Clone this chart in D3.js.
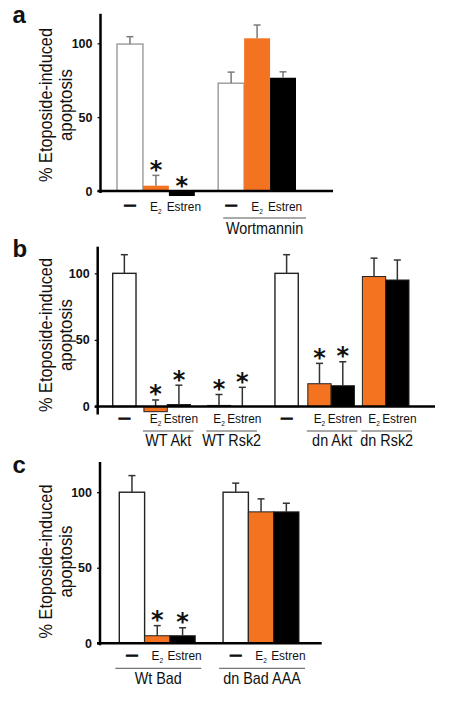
<!DOCTYPE html>
<html><head><meta charset="utf-8">
<script src="https://cdn.jsdelivr.net/npm/d3@7"></script>
<style>
body{margin:0;background:#fff;}
svg{display:block;}
text{font-family:"Liberation Sans",Arial,Helvetica,sans-serif;fill:#111;}
</style>
</head><body>
<svg id="chart" width="455" height="706"></svg>
<script>
// ---------- data ----------
const yTicks = [0, 50, 100];
const yTitle = ["% Etoposide-induced", "apoptosis"];

// Panel a
const aGroups = ["", "Wortmannin"];
const aConditions = ["—", "E2", "Estren", "—", "E2", "Estren"];
const aGroupOf = [0, 0, 0, 1, 1, 1];
const aValues = [99.5, 3.6, -3.4, 73, 103.4, 76.7];
const aSD = [5, 7, 0, 7.5, 9, 4];
const aSig = [0, 1, 1, 0, 0, 0];

// Panel b
const bGroups = ["", "WT Akt", "WT Rsk2", "", "dn Akt", "dn Rsk2"];
const bConditions = ["—", "E2", "Estren", "E2", "Estren", "—", "E2", "Estren", "E2", "Estren"];
const bGroupOf = [0, 1, 1, 2, 2, 3, 4, 4, 5, 5];
const bValues = [100, -3.9, 1.5, 0.8, 0, 100, 17.1, 15.6, 97.6, 95];
const bSD = [14, 8.8, 14.5, 8.2, 14.4, 14, 15.3, 18, 13.8, 15];
const bSig = [0, 1, 1, 1, 1, 0, 1, 1, 0, 0];

// Panel c
const cGroups = ["Wt Bad", "dn Bad AAA"];
const cConditions = ["—", "E2", "Estren", "—", "E2", "Estren"];
const cGroupOf = [0, 0, 0, 1, 1, 1];
const cValues = [100, 5, 5, 100, 87, 87];
const cSD = [11, 6.7, 5.3, 6, 8.6, 5.7];
const cSig = [0, 1, 1, 0, 0, 0];

// ---------- styling / layout ----------
const ORANGE = "#f47321";
const fillFor = c => c === "—" ? "#ffffff" : (c === "E2" ? ORANGE : "#000000");

const panels = [
  {letter: "a", groups: aGroups, conditions: aConditions, groupOf: aGroupOf, values: aValues, sd: aSD, sig: aSig,
   L: {top: 13.8, base: 191, axisX: 100.5, xStart: 117, xEnd: 296, axisEnd: 333, gaps: [0.9], yExtra: 2,
       letterY: 23, condY: 210.5, lineY: 218, groupY: 233.5, titleC: 105, ext: [5, 10],
       whiteStroke: "#9a9a9a", colStroke: "none", errColor: "#7a7a7a"}},
  {letter: "b", groups: bGroups, conditions: bConditions, groupOf: bGroupOf, values: bValues, sd: bSD, sig: bSig,
   L: {top: 246.7, base: 406.5, axisX: 97.7, xStart: 112.7, xEnd: 409, axisEnd: 435, gaps: [0.34, 0.72, 0.9, 0.41, 0.34], yExtra: 8,
       letterY: 257, condY: 423, lineY: 431, groupY: 446, titleC: 335, ext: [-1, 3],
       whiteStroke: "#222", colStroke: "#222", errColor: "#333"}},
  {letter: "c", groups: cGroups, conditions: cConditions, groupOf: cGroupOf, values: cValues, sd: cSD, sig: cSig,
   L: {top: 462, base: 643.3, axisX: 100, xStart: 119.3, xEnd: 299, axisEnd: 321.7, gaps: [1.1], yExtra: 2,
       letterY: 473, condY: 660, lineY: 668.3, groupY: 684, titleC: 561.5, ext: [-4, 6],
       whiteStroke: "#222", colStroke: "#222", errColor: "#333"}}
];

const svg = d3.select("#chart");

panels.forEach(p => {
  const L = p.L;
  const g = svg.append("g");
  const n = p.values.length;

  // unit positions of bars (groups separated by gaps)
  const starts = [];
  let pos = 0;
  for (let i = 0; i < n; i++) {
    if (i > 0 && p.groupOf[i] !== p.groupOf[i - 1]) pos += L.gaps[p.groupOf[i] - 1];
    starts.push(pos);
    pos += 1;
  }
  const x = d3.scaleLinear().domain([0, pos]).range([L.xStart, L.xEnd]);
  const y = d3.scaleLinear().domain([0, 120]).range([L.base, L.top]);

  const bars = p.values.map((v, i) => ({v, sd: p.sd[i], c: p.conditions[i], sig: p.sig[i], x0: x(starts[i]), x1: x(starts[i] + 1)}));

  // bars
  g.selectAll("rect.bar").data(bars).join("rect")
    .attr("class", "bar")
    .attr("x", d => d.x0)
    .attr("width", d => d.x1 - d.x0)
    .attr("y", d => y(Math.max(d.v, 0)))
    .attr("height", d => Math.abs(y(d.v) - y(0)))
    .attr("fill", d => fillFor(d.c))
    .attr("stroke", d => d.c === "—" ? L.whiteStroke : L.colStroke)
    .attr("stroke-width", d => d.c === "—" ? 1.4 : 1);

  // error bars (upper only)
  const eb = bars.filter(d => d.sd > 0);
  g.selectAll("line.err").data(eb).join("line")
    .attr("x1", d => (d.x0 + d.x1) / 2).attr("x2", d => (d.x0 + d.x1) / 2)
    .attr("y1", d => y(Math.max(d.v, 0))).attr("y2", d => y(d.v + d.sd))
    .attr("stroke", L.errColor).attr("stroke-width", 1.5);
  g.selectAll("line.cap").data(eb).join("line")
    .attr("x1", d => (d.x0 + d.x1) / 2 - 3.5).attr("x2", d => (d.x0 + d.x1) / 2 + 3.5)
    .attr("y1", d => y(d.v + d.sd)).attr("y2", d => y(d.v + d.sd))
    .attr("stroke", L.errColor).attr("stroke-width", 1.5);

  // significance asterisks
  g.selectAll("text.star").data(bars.filter(d => d.sig)).join("text")
    .attr("x", d => (d.x0 + d.x1) / 2)
    .attr("y", d => y(Math.max(d.v + d.sd, 0)) - 11 + 13.5)
    .attr("text-anchor", "middle")
    .style("font-family", "'DejaVu Sans', sans-serif")
    .style("font-size", "24px")
    .style("font-weight", "bold")
    .text("*");

  // y axis
  const ax = g.append("g").attr("transform", `translate(${L.axisX},0)`)
    .call(d3.axisLeft(y).tickValues(yTicks).tickSize(3).tickPadding(5));
  ax.select(".domain").remove();
  ax.selectAll(".tick line").attr("stroke", "#000").attr("stroke-width", 1.2);
  ax.selectAll(".tick text").style("font-family", "'Liberation Sans',Arial,sans-serif")
    .style("font-size", "12.5px").style("font-weight", "bold").attr("fill", "#111");
  g.append("line").attr("x1", L.axisX).attr("x2", L.axisX)
    .attr("y1", y(120)).attr("y2", L.base + L.yExtra)
    .attr("stroke", "#000").attr("stroke-width", 2.5);
  // x axis baseline
  g.append("line").attr("x1", L.axisX - 3).attr("x2", L.axisEnd)
    .attr("y1", y(0)).attr("y2", y(0))
    .attr("stroke", "#000").attr("stroke-width", 2.5);

  // condition labels (slightly condensed like the original typeface)
  const cl = g.selectAll("text.cond").data(bars).join("text")
    .attr("transform", d => `translate(${(d.x0 + d.x1) / 2 + (d.c === "Estren" ? 2 : 0)},${L.condY}) scale(0.88,1)`)
    .attr("text-anchor", "middle")
    .style("font-size", "13.5px");
  cl.each(function(d) {
    const t = d3.select(this);
    if (d.c === "E2") {
      t.append("tspan").text("E");
      t.append("tspan").attr("dy", 3).style("font-size", "7.5px").text("2");
    } else if (d.c === "—") {
      t.attr("y", -1.5).style("font-weight", "bold").style("font-size", "13px")
        .attr("stroke", "#111").attr("stroke-width", 0.9).text("—");
    } else {
      t.text(d.c);
    }
  });

  // group underlines and labels
  p.groups.forEach((name, gi) => {
    if (!name) return;
    const idx = d3.range(n).filter(i => p.groupOf[i] === gi);
    const xa = bars[idx[0]].x0 + L.ext[0];
    const xb = bars[idx[idx.length - 1]].x1 + L.ext[1];
    g.append("line").attr("x1", xa).attr("x2", xb).attr("y1", L.lineY).attr("y2", L.lineY)
      .attr("stroke", "#555").attr("stroke-width", 1);
    g.append("text").attr("transform", `translate(${(xa + xb) / 2},${L.groupY}) scale(0.9,1)`)
      .attr("text-anchor", "middle").style("font-size", "16px").text(name);
  });

  // y title
  const tt = g.append("g").attr("transform", `translate(0,${L.titleC}) rotate(-90)`);
  tt.append("text").attr("x", 0).attr("y", 51.5).attr("text-anchor", "middle")
    .style("font-size", "19px").attr("textLength", 154).attr("lengthAdjust", "spacingAndGlyphs").text(yTitle[0]);
  tt.append("text").attr("x", 0).attr("y", 72).attr("text-anchor", "middle")
    .style("font-size", "19px").attr("textLength", 72).attr("lengthAdjust", "spacingAndGlyphs").text(yTitle[1]);

  // panel letter
  g.append("text").attr("x", 12.5).attr("y", L.letterY)
    .style("font-size", "24px").style("font-weight", "bold").text(p.letter);
});
</script>
</body></html>
